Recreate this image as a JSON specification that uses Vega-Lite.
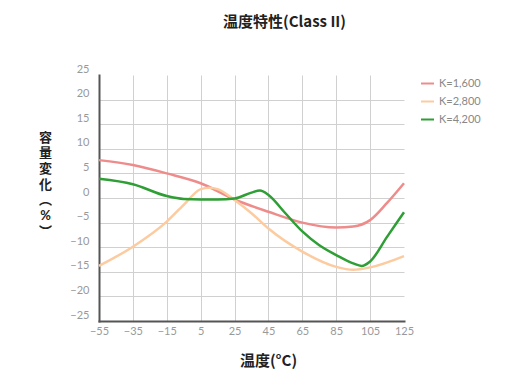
{
  "$schema": "https://vega.github.io/schema/vega-lite/v6.json",
  "width": 305,
  "height": 246,
  "autosize": {"type": "none"},
  "padding": {"left": 99, "top": 75, "right": 116, "bottom": 69},
  "background": "white",
  "title": {"text": "温度特性(Class II)", "anchor": "middle", "dx": 33, "offset": 33, "fontSize": 15, "fontWeight": "bold", "font": "Noto Sans CJK JP", "color": "#222"},
  "data": {"values": [
    {"t": -55, "v": 7.7, "s": "K=1,600"},
    {"t": -35, "v": 6.7, "s": "K=1,600"},
    {"t": -15, "v": 5.0, "s": "K=1,600"},
    {"t": 5, "v": 3.0, "s": "K=1,600"},
    {"t": 25, "v": -0.3, "s": "K=1,600"},
    {"t": 45, "v": -2.8, "s": "K=1,600"},
    {"t": 65, "v": -5.0, "s": "K=1,600"},
    {"t": 85, "v": -6.0, "s": "K=1,600"},
    {"t": 95, "v": -5.8, "s": "K=1,600"},
    {"t": 105, "v": -4.5, "s": "K=1,600"},
    {"t": 115, "v": -1.0, "s": "K=1,600"},
    {"t": 125, "v": 3.0, "s": "K=1,600"},
    {"t": -55, "v": -13.8, "s": "K=2,800"},
    {"t": -35, "v": -9.9, "s": "K=2,800"},
    {"t": -15, "v": -4.8, "s": "K=2,800"},
    {"t": -5, "v": -1.4, "s": "K=2,800"},
    {"t": 5, "v": 1.8, "s": "K=2,800"},
    {"t": 10, "v": 2.1, "s": "K=2,800"},
    {"t": 15, "v": 1.8, "s": "K=2,800"},
    {"t": 25, "v": -0.4, "s": "K=2,800"},
    {"t": 35, "v": -3.1, "s": "K=2,800"},
    {"t": 45, "v": -6.2, "s": "K=2,800"},
    {"t": 65, "v": -10.9, "s": "K=2,800"},
    {"t": 85, "v": -14.0, "s": "K=2,800"},
    {"t": 95, "v": -14.6, "s": "K=2,800"},
    {"t": 105, "v": -14.1, "s": "K=2,800"},
    {"t": 125, "v": -11.8, "s": "K=2,800"},
    {"t": -55, "v": 3.9, "s": "K=4,200"},
    {"t": -35, "v": 2.8, "s": "K=4,200"},
    {"t": -15, "v": 0.4, "s": "K=4,200"},
    {"t": -5, "v": -0.2, "s": "K=4,200"},
    {"t": 5, "v": -0.3, "s": "K=4,200"},
    {"t": 15, "v": -0.3, "s": "K=4,200"},
    {"t": 25, "v": -0.1, "s": "K=4,200"},
    {"t": 35, "v": 1.1, "s": "K=4,200"},
    {"t": 40, "v": 1.5, "s": "K=4,200"},
    {"t": 45, "v": 0.6, "s": "K=4,200"},
    {"t": 55, "v": -3.1, "s": "K=4,200"},
    {"t": 65, "v": -6.8, "s": "K=4,200"},
    {"t": 75, "v": -9.6, "s": "K=4,200"},
    {"t": 85, "v": -11.6, "s": "K=4,200"},
    {"t": 95, "v": -13.3, "s": "K=4,200"},
    {"t": 100, "v": -13.8, "s": "K=4,200"},
    {"t": 105, "v": -12.9, "s": "K=4,200"},
    {"t": 115, "v": -7.9, "s": "K=4,200"},
    {"t": 125, "v": -2.9, "s": "K=4,200"}
  ]},
  "mark": {"type": "line", "interpolate": "monotone", "strokeWidth": 2.5},
  "encoding": {
    "x": {"field": "t", "type": "quantitative",
      "scale": {"domain": [-55, 125], "nice": false, "zero": false},
      "axis": {"values": [-55, -35, -15, 5, 25, 45, 65, 85, 105, 125],
        "title": "温度(°C)", "titleX": 169, "titleY": 39, "titleAlign": "center", "titleBaseline": "middle",
        "titleFont": "Noto Sans CJK JP", "titleFontSize": 15, "titleFontWeight": "bold", "titleColor": "#222",
        "labelFont": "Lato", "labelFontSize": 11, "labelColor": "#999", "labelPadding": 4, "labelFlush": false,
        "ticks": false, "domainColor": "#555", "domainWidth": 2,
        "gridColor": {"condition": {"test": "datum.value === 125 || datum.value === -55", "value": "transparent"}, "value": "#d0d0d0"},
        "gridWidth": 1}},
    "y": {"field": "v", "type": "quantitative",
      "scale": {"domain": [-25, 25], "nice": false},
      "axis": {"values": [-25, -20, -15, -10, -5, 0, 5, 10, 15, 20, 25],
        "title": ["容", "量", "変", "化", "︵", "%", "︶"], "titleAngle": 0, "titleX": -54, "titleY": 56,
        "titleAlign": "center", "titleBaseline": "top", "titleLineHeight": 15.7,
        "titleFont": "Lato, Noto Sans CJK JP", "titleFontSize": 13, "titleFontWeight": "bold", "titleColor": "#222",
        "labelFont": "Lato", "labelFontSize": 11, "labelColor": "#999", "labelPadding": 10, "labelOffset": -6, "labelFlush": false,
        "ticks": false, "domainColor": "#555", "domainWidth": 2,
        "gridColor": {"condition": {"test": "datum.value === 25 || datum.value === -25", "value": "transparent"}, "value": "#d0d0d0"},
        "gridWidth": 1}},
    "color": {"field": "s", "type": "nominal",
      "scale": {"domain": ["K=1,600", "K=2,800", "K=4,200"], "range": ["#ee8c8c", "#fccba0", "#2e9e35"]},
      "legend": {"title": null, "orient": "none", "legendX": 321, "legendY": 1,
        "symbolType": "stroke", "symbolSize": 169, "symbolStrokeWidth": 2,
        "labelFont": "Lato", "labelFontSize": 11, "labelColor": "#888", "rowPadding": 5, "labelOffset": 4}}
  },
  "config": {"view": {"stroke": null}, "axis": {"domainCap": "square"}}
}
